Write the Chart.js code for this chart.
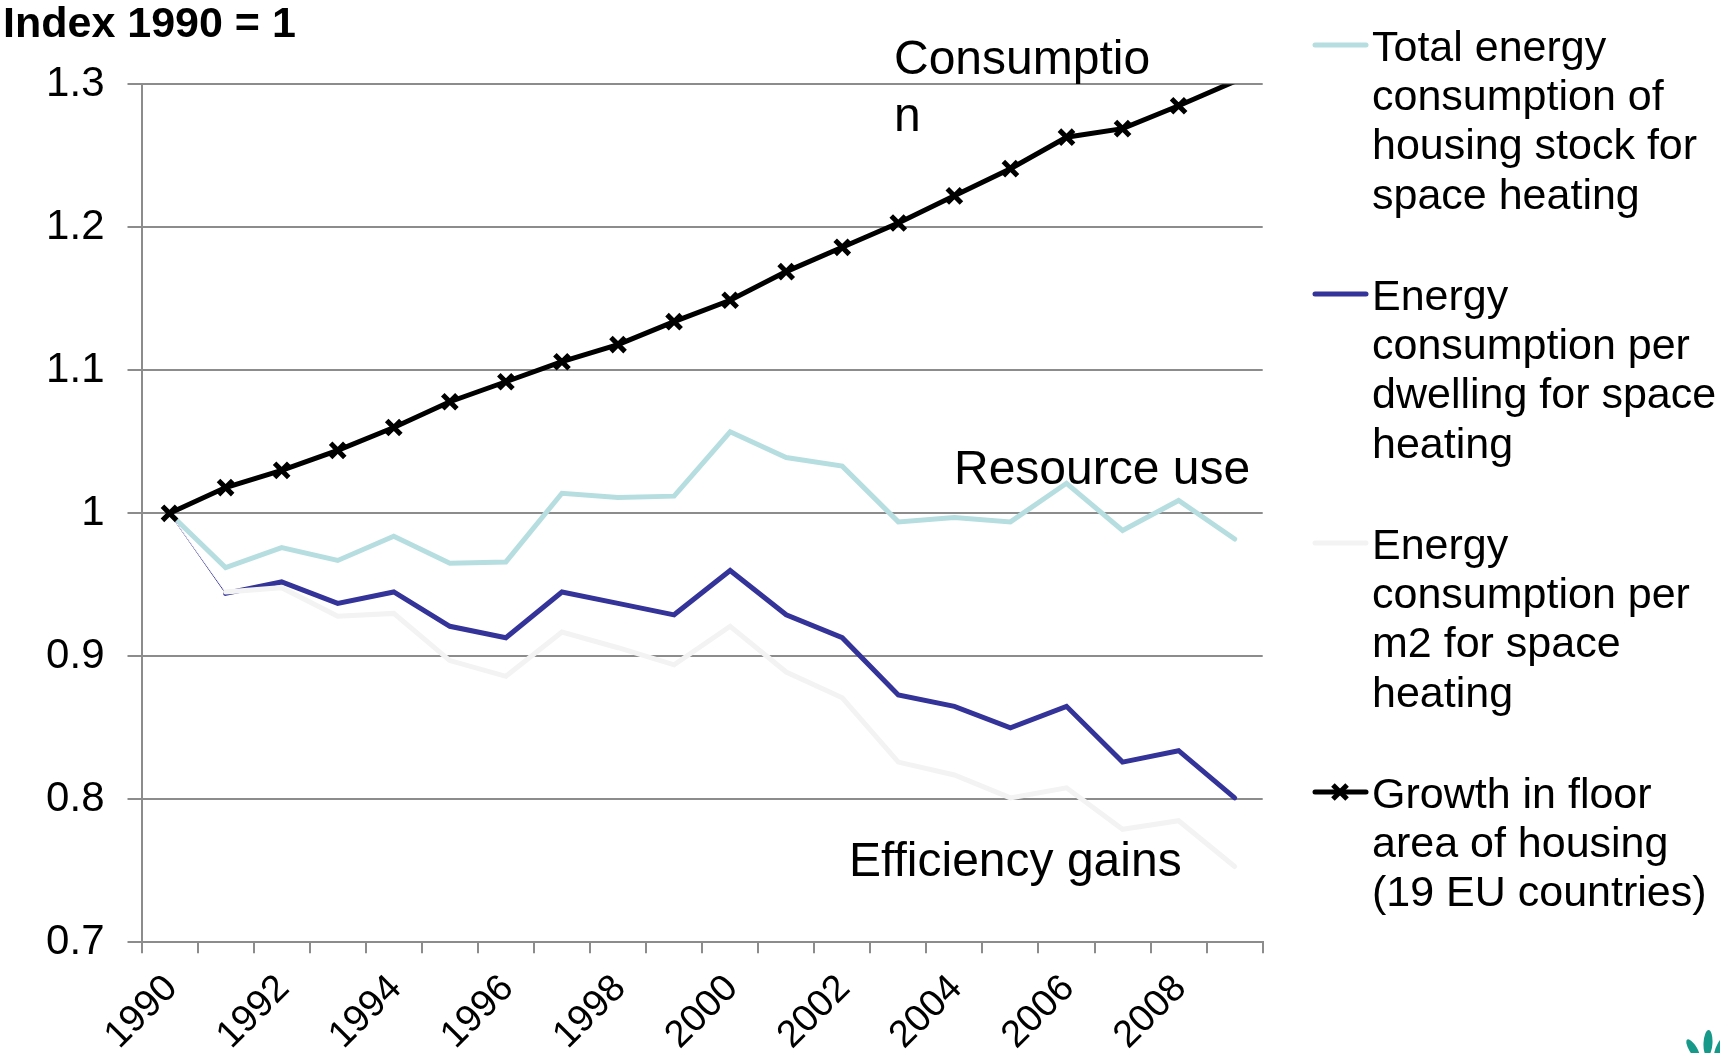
<!DOCTYPE html>
<html>
<head>
<meta charset="utf-8">
<title>Space heating energy use and floor area, 1990-2009</title>
<script src="https://cdn.jsdelivr.net/npm/chart.js@4/dist/chart.umd.min.js"></script>
<style>
  html, body { margin: 0; padding: 0; background: #ffffff; }
  canvas { display: block; }
</style>
</head>
<body>
<canvas id="chart" width="1720" height="1053"></canvas>
<script>
// ---- data -------------------------------------------------------------
const years = ['1990','1991','1992','1993','1994','1995','1996','1997','1998','1999',
               '2000','2001','2002','2003','2004','2005','2006','2007','2008','2009'];
const xTickLabels = ['1990','1992','1994','1996','1998','2000','2002','2004','2006','2008'];
const yTickLabels = ['0.7','0.8','0.9','1','1.1','1.2','1.3'];
const yAxisTitle = 'Index 1990 = 1';

// Total energy consumption of housing stock for space heating
const totalEnergy = [1.000, 0.962, 0.976, 0.967, 0.984, 0.965, 0.966, 1.014, 1.011, 1.012,
                     1.057, 1.039, 1.033, 0.994, 0.997, 0.994, 1.021, 0.988, 1.009, 0.982];
// Energy consumption per dwelling for space heating
const perDwelling = [1.000, 0.944, 0.952, 0.937, 0.945, 0.921, 0.913, 0.945, 0.937, 0.929,
                     0.960, 0.929, 0.913, 0.873, 0.865, 0.850, 0.865, 0.826, 0.834, 0.801];
// Energy consumption per m2 for space heating
const perM2 = [1.000, 0.945, 0.948, 0.928, 0.930, 0.897, 0.886, 0.917, 0.906, 0.894,
               0.921, 0.889, 0.871, 0.826, 0.817, 0.801, 0.808, 0.779, 0.785, 0.753];
// Growth in floor area of housing (19 EU countries)
const floorArea = [1.000, 1.018, 1.030, 1.044, 1.060, 1.078, 1.092, 1.106, 1.118, 1.134,
                   1.149, 1.169, 1.186, 1.203, 1.222, 1.241, 1.263, 1.269, 1.285, 1.302];

const seriesNames = [
  ['Total energy', 'consumption of', 'housing stock for', 'space heating'],
  ['Energy', 'consumption per', 'dwelling for space', 'heating'],
  ['Energy', 'consumption per', 'm2 for space', 'heating'],
  ['Growth in floor', 'area of housing', '(19 EU countries)']
];
const annotationTexts = [['Consumptio', 'n'], ['Resource use'], ['Efficiency gains']];

// ---- styling ----------------------------------------------------------
const FONT = '"Liberation Sans", Arial, Helvetica, sans-serif';
const GRID = '#8c8c8c';
const COLORS = ['#b6dee0', '#333399', '#f3f3f3', '#000000'];
const LINE_W = 5;
const MARK_R = 10;
const MARK_W = 5;
const Y_MIN = 0.7, Y_MAX = 1.3;

Chart.defaults.font.family = FONT;
Chart.defaults.color = '#000000';

function drawCross(c, x, y, r, w, color) {
  const d = r * Math.SQRT1_2;
  c.save();
  c.strokeStyle = color;
  c.lineWidth = w;
  c.beginPath();
  c.moveTo(x - d, y - d); c.lineTo(x + d, y + d);
  c.moveTo(x + d, y - d); c.lineTo(x - d, y + d);
  c.stroke();
  c.restore();
}

// Title, free-text labels, the multi-line legend and the corner logo
const decorations = {
  id: 'decorations',
  afterDraw(chart) {
    const c = chart.ctx;
    c.save();
    c.fillStyle = '#000000';
    c.textAlign = 'left';
    c.textBaseline = 'alphabetic';

    c.font = 'bold 43px ' + FONT;
    c.fillText(yAxisTitle, 3, 37);

    c.font = '48px ' + FONT;
    c.fillText(annotationTexts[0][0], 894, 74);
    c.fillText(annotationTexts[0][1], 894, 131);
    c.fillText(annotationTexts[1][0], 954, 484);
    c.fillText(annotationTexts[2][0], 849, 876);

    // legend
    const lineH = 49.4;
    const itemGap = 249;
    c.font = '43px ' + FONT;
    chart.data.datasets.forEach((ds, i) => {
      const y = 45 + i * itemGap;
      c.save();
      c.strokeStyle = ds.borderColor;
      c.lineWidth = LINE_W;
      c.lineCap = 'round';
      c.beginPath();
      c.moveTo(1315, y);
      c.lineTo(1366, y);
      c.stroke();
      c.restore();
      if (ds.pointRadius !== 0) drawCross(c, 1340, y, MARK_R, MARK_W, ds.borderColor);
      seriesNames[i].forEach((line, k) => {
        c.fillText(line, 1372, y + 15.5 + k * lineH);
      });
    });

    // logo leaves at the lower right corner
    c.fillStyle = '#17998a';
    [[1693, 1049, 4, 11, -0.55], [1708, 1043, 4.5, 13, 0.05], [1721, 1046, 4, 12, 0.5]].forEach(l => {
      c.beginPath();
      c.ellipse(l[0], l[1], l[2], l[3], l[4], 0, Math.PI * 2);
      c.fill();
    });
    c.restore();
  }
};

const thinFirst = { borderWidth: s => (s.p0DataIndex === 0 ? 1 : LINE_W) };

new Chart(document.getElementById('chart'), {
  type: 'line',
  data: {
    labels: years,
    datasets: [
      { label: seriesNames[0].join(' '), data: totalEnergy, borderColor: COLORS[0],
        borderWidth: LINE_W, pointRadius: 0, order: 4 },
      { label: seriesNames[1].join(' '), data: perDwelling, borderColor: COLORS[1],
        borderWidth: LINE_W, pointRadius: 0, order: 3, segment: thinFirst },
      { label: seriesNames[2].join(' '), data: perM2, borderColor: COLORS[2],
        borderWidth: LINE_W, pointRadius: 0, order: 2, segment: thinFirst },
      { label: seriesNames[3].join(' '), data: floorArea, borderColor: COLORS[3],
        borderWidth: LINE_W, order: 1, clip: 0,
        pointStyle: 'crossRot',
        pointRadius: ctx => (ctx.raw > Y_MAX ? 0 : MARK_R),
        pointBorderWidth: MARK_W, pointBorderColor: COLORS[3], pointBackgroundColor: COLORS[3] }
    ]
  },
  options: {
    responsive: false,
    animation: false,
    events: [],
    layout: { padding: { top: 84.3, right: 457.3, bottom: 0, left: 0 } },
    plugins: { legend: { display: false }, tooltip: { enabled: false }, title: { display: false } },
    elements: { line: { tension: 0, borderJoinStyle: 'miter', borderCapStyle: 'round' } },
    scales: {
      x: {
        offset: true,
        afterFit: s => { s.height = 110.7; },
        grid: { offset: true, drawOnChartArea: false, drawTicks: true, tickLength: 11,
                color: GRID, lineWidth: 2 },
        border: { display: true, color: GRID, width: 2 },
        ticks: {
          autoSkip: false, maxRotation: 45, minRotation: 45,
          padding: 13, labelOffset: 2,
          font: { size: 38 }, color: '#000000',
          callback: (v, i) => (xTickLabels.includes(years[i]) ? years[i] : '')
        }
      },
      y: {
        min: Y_MIN, max: Y_MAX,
        afterFit: s => { s.width = 141.5; },
        grid: { color: GRID, lineWidth: 2, drawTicks: true, tickLength: 14 },
        border: { display: true, color: GRID, width: 2 },
        ticks: {
          stepSize: 0.1, padding: 23, font: { size: 42 }, color: '#000000',
          callback: v => {
            const t = yTickLabels.find(l => Math.abs(Number(l) - v) < 1e-6);
            return t === undefined ? '' : t;
          }
        }
      }
    }
  },
  plugins: [decorations]
});
</script>
</body>
</html>
